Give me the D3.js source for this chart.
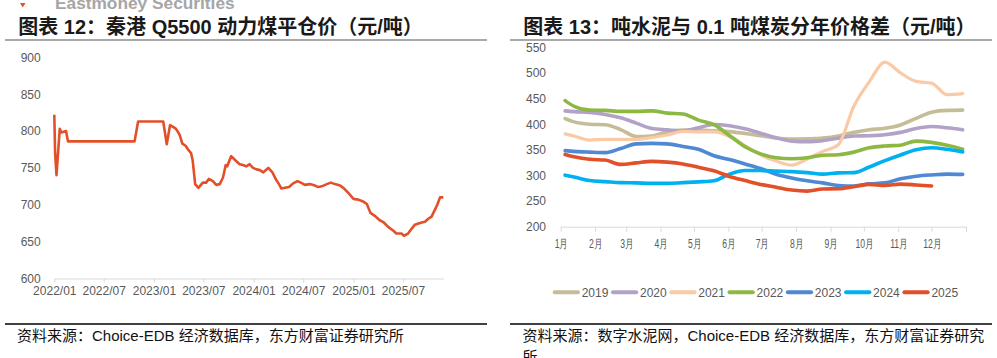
<!DOCTYPE html>
<html><head><meta charset="utf-8">
<script src="https://cdn.jsdelivr.net/npm/d3@7"></script>
<style>
html,body{margin:0;padding:0;background:#fff;}
svg{display:block;}
</style></head>
<body>
<svg id="c" width="997" height="358"></svg>
<script>
// ---------- Left chart data: 秦港 Q5500 动力煤平仓价 ----------
const coalDates = ["2022-01-01","2022-01-04","2022-01-09","2022-01-21","2022-01-27","2022-02-13","2022-02-20","2022-10-22","2022-11-04","2023-02-04","2023-02-17","2023-03-01","2023-03-11","2023-03-23","2023-04-05","2023-04-15","2023-04-27","2023-05-06","2023-05-17","2023-05-23","2023-06-01","2023-06-13","2023-06-29","2023-07-11","2023-07-21","2023-08-05","2023-08-17","2023-08-30","2023-09-11","2023-09-21","2023-09-26","2023-10-11","2023-10-27","2023-11-11","2023-11-23","2023-12-05","2023-12-17","2023-12-30","2024-01-12","2024-01-24","2024-02-06","2024-02-24","2024-03-10","2024-03-22","2024-04-03","2024-04-12","2024-04-25","2024-05-10","2024-05-25","2024-06-10","2024-06-22","2024-07-07","2024-07-25","2024-08-13","2024-08-25","2024-09-07","2024-09-25","2024-10-10","2024-10-25","2024-11-13","2024-11-25","2024-12-13","2025-01-01","2025-01-19","2025-02-07","2025-02-19","2025-03-04","2025-03-20","2025-04-07","2025-04-22","2025-05-08","2025-05-26","2025-06-07","2025-06-26","2025-07-05","2025-07-20","2025-08-01","2025-08-14","2025-08-30","2025-09-08","2025-09-20","2025-10-02","2025-10-14","2025-10-26","2025-11-04","2025-11-14","2025-11-26"];
const coalPrices = [822,770,740,803,798,800,786,786,813,813,782,808,806,803,795,783,780,775,770,760,728,723,730,730,735,732,727,728,737,754,752,766,760,755,754,752,755,750,748,747,744,750,744,735,728,722,723,724,729,732,730,727,728,726,724,725,728,730,728,726,723,716,708,707,704,701,689,685,679,676,670,665,661,661,658,661,667,673,675,676,677,681,684,693,700,710,710];
const leftXTicks = ["2022/01","2022/07","2023/01","2023/07","2024/01","2024/07","2025/01","2025/07"];
const leftYTicks = [600,650,700,750,800,850,900];

// ---------- Right chart data: 吨水泥与0.1吨煤炭价格差 ----------
const cementDays = [4,12,26,40,54,68,82,96,110,124,138,152,166,180,194,208,222,236,250,264,278,292,306,320,334,348,362];
const s2019 = [411,404.5,400,399,389.5,376,377,385,388.5,388.5,387,385.5,382,377.5,373,371,371.5,373,377,384,389,392,398.5,411.5,423.5,427,427.5];
const s2020 = [426,424.5,423,419,412.5,402,391.5,389,387,393,399.5,397,391,382.5,373.5,367,366,368,372.5,377,377.5,379.5,384,391.5,395.5,393,389];
const s2021 = [381,377,369,370.5,370.5,370.5,374,379,386,385,385,376,358,340,328,320,332,347,360,435,483,521,500,483.5,480,457.5,459.5];
const s2022 = [446,435,427.5,427,425,425,426,421.5,420,408,399,378,356,342,334.5,332.5,334.5,339.5,340.5,345.5,354,357.5,359,367,364.5,359,351];
const s2023 = [348.5,347,345.5,344.5,352.5,361.5,362.5,361.5,356.5,351,338.5,331,322.5,313.5,302.5,295,289.5,285.5,280.5,279.5,283.5,285.5,293.5,298.5,301,302.5,302];
const s2024 = [300.5,297,290,288,286,285.5,284.5,284.5,286,287.5,289.5,302.5,309.5,309.5,308.5,307.5,305.5,302.5,305,305.5,316.5,329,340,350,354,351,346];
const s2025 = [341,336.5,331.5,330,321.5,324.5,327.5,326,322.5,316,309,298,290,282.5,277,271.5,269.5,273.5,274,278,282.5,280.5,283,281.5,279.5];
const years = ["2019","2020","2021","2022","2023","2024","2025"];
const yearColors = ["#C4BD97","#B3A2C7","#FAC9A6","#8DB843","#4F88D3","#00B0F0","#E2502A"];
const monthLabels = ["1月","2月","3月","4月","5月","6月","7月","8月","9月","10月","11月","12月"];
const rightYTicks = [200,250,300,350,400,450,500,550];

const NARROW = "'Liberation Sans Narrow','Arial Narrow','Liberation Sans',Arial,sans-serif";
const MAIN = "'Liberation Sans','Noto Sans CJK SC',Arial,sans-serif";
const svg = d3.select("#c");

// ---------- watermark ----------
svg.append("path").attr("d","M20,3 L25.5,3 L22.7,7.5 Z").attr("fill","#E2502A");
svg.append("text").attr("x",55).attr("y",9.3).text("Eastmoney Securities")
  .attr("font-family",MAIN).attr("font-weight","bold").attr("font-size",17.3).attr("fill","#A6A6A6");

// ---------- titles ----------
function title(x, t){
  svg.append("text").attr("x",x).attr("y",33.5).text(t)
    .attr("font-family",MAIN).attr("font-weight","bold").attr("font-size",20).attr("fill","#1a1a1a");
}
title(18.3,"图表 12：秦港 Q5500 动力煤平仓价（元/吨）");
title(523.3,"图表 13：吨水泥与 0.1 吨煤炭分年价格差（元/吨）");
svg.append("line").attr("x1",5).attr("x2",487).attr("y1",40).attr("y2",40).attr("stroke","#8c8c8c").attr("stroke-width",1.5);
svg.append("line").attr("x1",510).attr("x2",992).attr("y1",40).attr("y2",40).attr("stroke","#8c8c8c").attr("stroke-width",1.5);

// ---------- footers ----------
svg.append("line").attr("x1",5).attr("x2",487).attr("y1",324).attr("y2",324).attr("stroke","#000").attr("stroke-width",1.3);
svg.append("line").attr("x1",510).attr("x2",992).attr("y1",324).attr("y2",324).attr("stroke","#000").attr("stroke-width",1.3);
function foot(x,y,t){
  svg.append("text").attr("x",x).attr("y",y).text(t)
    .attr("font-family",MAIN).attr("font-size",15).attr("fill","#111");
}
foot(17,340.5,"资料来源：Choice-EDB 经济数据库，东方财富证券研究所");
foot(522.5,340.5,"资料来源：数字水泥网，Choice-EDB 经济数据库，东方财富证券研究");
foot(522.5,361.5,"所");

function styleAxis(g){
  g.selectAll(".domain").attr("stroke","#D9D9D9");
  g.selectAll(".tick line").attr("stroke","#D9D9D9");
  g.selectAll(".tick text").attr("fill","#595959").attr("font-family",NARROW).attr("font-size",12);
}

// ---------- left chart ----------
const parseD = d3.timeParse("%Y-%m-%d");
const parseM = d3.timeParse("%Y/%m");
const coal = coalDates.map((d,i)=>({date:parseD(d), v:coalPrices[i]}));
const xL = d3.scaleTime().domain([parseD("2022-01-01"), parseD(coalDates[coalDates.length-1])]).range([54.3,443.3]);
const yL = d3.scaleLinear().domain([600,900]).range([278.5,57.3]);

const gxL = svg.append("g").attr("transform","translate(0,278.5)")
  .call(d3.axisBottom(xL).tickValues(leftXTicks.map(parseM)).tickFormat(d3.timeFormat("%Y/%m")).tickSize(4).tickSizeOuter(0).tickPadding(4));
styleAxis(gxL);
const gyL = svg.append("g").attr("transform","translate(54.3,0)")
  .call(d3.axisLeft(yL).tickValues(leftYTicks).tickSize(0).tickPadding(13.6));
gyL.select(".domain").remove();
styleAxis(gyL);

svg.append("path").datum(coal)
  .attr("d", d3.line().x(d=>xL(d.date)).y(d=>yL(d.v)))
  .attr("fill","none").attr("stroke","#E2502A").attr("stroke-width",2.6).attr("stroke-linejoin","round");

// ---------- right chart ----------
const xR = d3.scaleLinear().domain([0,365]).range([560.7,966]);
const yR = d3.scaleLinear().domain([200,550]).range([226.7,47.3]);
const y0 = new Date(2023,0,1);
const monthStarts = d3.timeMonth.range(y0, new Date(2024,0,1)).map(m=>d3.timeDay.count(y0,m));
const gxR = svg.append("g").attr("transform","translate(0,226.7)")
  .call(d3.axisBottom(xR).tickValues(monthStarts.concat([365])).tickFormat((d,i)=>monthLabels[i]||"").tickSize(5).tickSizeOuter(0).tickPadding(7.5));
styleAxis(gxR);
gxR.selectAll(".tick text").attr("transform","scale(0.72,1)");
const gyR = svg.append("g").attr("transform","translate(560.7,0)")
  .call(d3.axisLeft(yR).tickValues(rightYTicks).tickSize(0).tickPadding(14.7));
gyR.select(".domain").remove();
styleAxis(gyR);

const seriesVals = [s2019,s2020,s2021,s2022,s2023,s2024,s2025];
const lineR = d3.line().x(d=>xR(d[0])).y(d=>yR(d[1])).curve(d3.curveMonotoneX);
seriesVals.forEach((vals,i)=>{
  const pts = vals.map((v,j)=>[cementDays[j], v]);
  svg.append("path").datum(pts).attr("d",lineR)
    .attr("fill","none").attr("stroke",yearColors[i])
    .attr("stroke-width", i===2?3.2:3.6).attr("stroke-linejoin","round").attr("stroke-linecap","round");
});

// legend
const lg = svg.append("g").attr("transform","translate(0,292.3)");
years.forEach((yr,i)=>{
  const x0 = 552.7 + i*58.28;
  lg.append("line").attr("x1",x0+2).attr("x2",x0+25.3).attr("y1",0).attr("y2",0)
    .attr("stroke",yearColors[i]).attr("stroke-width",4).attr("stroke-linecap","round");
  lg.append("text").attr("x",x0+29).attr("y",0).attr("dy","0.35em").text(yr)
    .attr("font-family",NARROW).attr("font-size",12).attr("fill","#595959");
});
</script>
</body></html>
